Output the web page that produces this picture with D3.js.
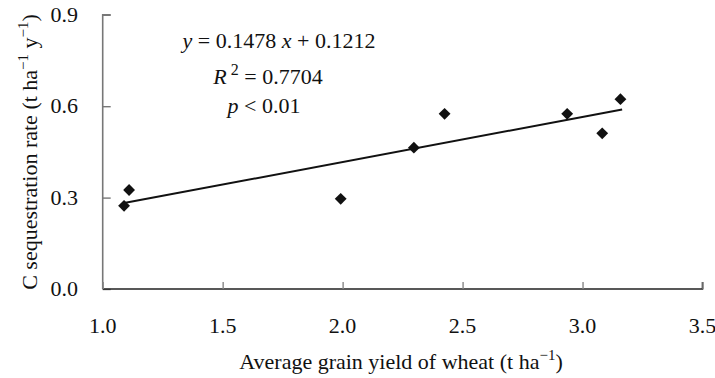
<!DOCTYPE html>
<html><head><meta charset="utf-8">
<script src="https://cdn.jsdelivr.net/npm/d3@7/dist/d3.min.js"></script>
</head><body style="margin:0">
<svg id="c" width="715" height="378" style="font-family:'Liberation Serif'"></svg>
<script>
const xVals = [1.089, 1.110, 1.992, 2.297, 2.425, 2.936, 3.082, 3.158];
const yVals = [0.273, 0.325, 0.296, 0.464, 0.575, 0.575, 0.511, 0.623];
const xTicks = [1.0, 1.5, 2.0, 2.5, 3.0, 3.5];
const yTicks = [0.0, 0.3, 0.6, 0.9];
const slope = 0.1478, intercept = 0.1212;
const fitRange = [1.089, 3.165];

const svg = d3.select("#c");
const x = d3.scaleLinear().domain([1.0, 3.5]).range([102.7, 702.5]);
const y = d3.scaleLinear().domain([0, 0.9]).range([289, 14.8]);
const fs = 22;
const tc = "#111";
const FF = "Liberation Serif";
function T(sel) { return sel.attr("font-family", FF).style("font-family", FF).attr("fill", tc); }

// y axis
const ya = svg.append("g").attr("transform", `translate(${x(1.0)},0)`)
  .call(d3.axisRight(y).tickValues(yTicks).tickSize(8).tickFormat(""));
ya.select(".domain").attr("d", `M8,${y(0.9)}H0V${y(0)}`).attr("stroke", "#777").attr("stroke-width", 1.6);
ya.selectAll(".tick line").attr("stroke", "#777").attr("stroke-width", 1.4);
T(svg.selectAll(".ylab").data(yTicks).join("text").attr("class", "ylab")
  .attr("x", 78).attr("y", d => y(d) + 7).attr("text-anchor", "end")
  .attr("font-size", fs).text(d => d.toFixed(1)));

// x axis
const xa = svg.append("g").attr("transform", `translate(0,${y(0)})`)
  .call(d3.axisTop(x).tickValues(xTicks).tickSize(7).tickFormat(""));
xa.select(".domain").attr("d", `M${x(1.0)},0H${x(3.5)}V-7`).attr("stroke", "#222").attr("stroke-width", 1.6);
xa.selectAll(".tick line").attr("stroke", "#888").attr("stroke-width", 1.4);
T(svg.selectAll(".xlab").data(xTicks).join("text").attr("class", "xlab")
  .attr("x", d => x(d)).attr("y", 333).attr("text-anchor", "middle")
  .attr("font-size", fs).text(d => d.toFixed(1)));

// fit line
svg.append("line")
  .attr("x1", x(fitRange[0])).attr("y1", y(slope * fitRange[0] + intercept))
  .attr("x2", x(fitRange[1])).attr("y2", y(slope * fitRange[1] + intercept))
  .attr("stroke", "#111").attr("stroke-width", 2);

// points
const sym = d3.symbol().type(d3.symbolSquare).size(70);
svg.selectAll(".pt").data(xVals.map((v, i) => [v, yVals[i]])).join("path")
  .attr("class", "pt").attr("d", sym)
  .attr("transform", d => `translate(${x(d[0])},${y(d[1])}) rotate(45)`)
  .attr("fill", "#111");

// equation text
const eq = T(svg.append("text").attr("x", 279).attr("y", 48).attr("text-anchor", "middle").attr("font-size", fs));
eq.append("tspan").attr("font-style", "italic").text("y");
eq.append("tspan").text(" = 0.1478 ");
eq.append("tspan").attr("font-style", "italic").text("x");
eq.append("tspan").text(" + 0.1212");

const r2 = T(svg.append("text").attr("x", 268).attr("y", 84).attr("text-anchor", "middle").attr("font-size", fs));
r2.append("tspan").attr("font-style", "italic").text("R");
r2.append("tspan").attr("dy", -9).attr("font-size", 16).text(" 2");
r2.append("tspan").attr("dy", 9).text(" = 0.7704");

const pv = T(svg.append("text").attr("x", 264).attr("y", 113).attr("text-anchor", "middle").attr("font-size", fs));
pv.append("tspan").attr("font-style", "italic").text("p");
pv.append("tspan").text("  < 0.01");

// axis titles
const xt = T(svg.append("text").attr("x", 401).attr("y", 369).attr("text-anchor", "middle").attr("font-size", fs));
xt.append("tspan").text("Average grain yield of wheat (t ha");
xt.append("tspan").attr("dy", -9).attr("font-size", 15).text("\u22121");
xt.append("tspan").attr("dy", 9).text(")");

const yt = T(svg.append("text").attr("transform", `translate(37,152) rotate(-90)`).attr("text-anchor", "middle").attr("font-size", fs));
yt.append("tspan").text("C sequestration rate (t ha");
yt.append("tspan").attr("dy", -9).attr("font-size", 15).text("\u22121");
yt.append("tspan").attr("dy", 9).text(" y");
yt.append("tspan").attr("dy", -9).attr("font-size", 15).text("\u22121");
yt.append("tspan").attr("dy", 9).text(")");
</script>
</body></html>
